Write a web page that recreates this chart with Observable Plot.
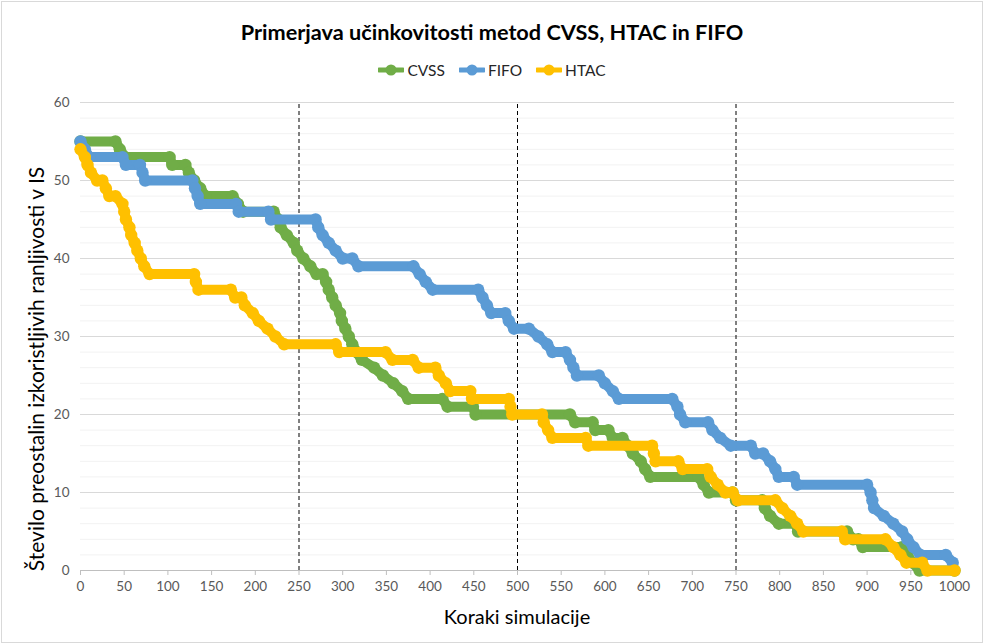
<!DOCTYPE html>
<html>
<head>
<meta charset="utf-8">
<script src="https://cdn.jsdelivr.net/npm/d3@7"></script>
<script src="https://cdn.jsdelivr.net/npm/@observablehq/plot@0.6"></script>
<style>
  html, body { margin: 0; padding: 0; background: #fff; }
  #wrap { position: relative; width: 984px; height: 644px; font-family: Lato, "Open Sans", sans-serif; }
  #frame { position: absolute; left: 1px; top: 1px; width: 980px; height: 640px; border: 1px solid #d9d9d9; }
  #title { position: absolute; left: 0; width: 984px; top: 19px; text-align: center; font-size: 21.7px; font-weight: bold; color: #000; }
  #legend { position: absolute; left: 0; width: 984px; top: 61px; display: flex; justify-content: center; gap: 14px; font-size: 15.5px; color: #262626; }
  .item { display: flex; align-items: center; gap: 3px; }
  #ytitle { position: absolute; left: 35px; top: 369px; transform: translate(-50%, -50%) rotate(-90deg); white-space: nowrap; font-size: 21px; color: #000; }
  #xtitle { position: absolute; left: 517px; top: 604px; transform: translateX(-50%); white-space: nowrap; font-size: 20px; color: #000; }
  #chart { position: absolute; left: 0; top: 0; }
</style>
</head>
<body>
<div id="wrap">
  <div id="frame"></div>
  <div id="chart"></div>
  <div id="title">Primerjava učinkovitosti metod CVSS, HTAC in FIFO</div>
  <div id="legend"></div>
  <div id="ytitle">Število preostalin izkoristljivih ranljivosti v IS</div>
  <div id="xtitle">Koraki simulacije</div>
</div>
<script>
// ---- data: [korak, število] vertices ----
const seriesNames = ["CVSS", "FIFO", "HTAC"];
const seriesColors = ["#70AD47", "#5B9BD5", "#FFC000"];

const cvss = [[0,55],[40,55],[45,54],[51,53],[102,53],[105,52],[120,52],[124,51],[130,50],[137,49],[143,48],[174,48],[180,47],[186,46],[221,46],[226,45],[229,44],[236,43],[244,42],[248,41],[255,40],[263,39],[270,38],[277,38],[281,37],[284,36],[288,35],[292,34],[297,33],[299,32],[303,31],[307,30],[311,29],[316,28],[322,27],[336,26],[346,25],[358,24],[368,23],[375,22],[414,22],[420,21],[449,21],[452,20],[560,20],[566,19],[586,19],[589,18],[604,18],[609,17],[620,17],[626,16],[632,15],[641,14],[646,13],[652,12],[707,12],[713,11],[719,10],[746,10],[750,9],[780,9],[783,8],[789,7],[799,6],[818,6],[821,5],[877,5],[884,4],[890,4],[895,3],[940,3],[946,2],[952,1],[960,0],[1000,0]];

const fifo = [[0,55],[5,54],[10,53],[48,53],[52,52],[68,52],[71,51],[74,50],[128,50],[131,49],[134,48],[137,47],[178,47],[181,46],[215,46],[218,45],[269,45],[272,44],[277,43],[284,42],[292,41],[300,40],[311,40],[318,39],[381,39],[388,38],[395,37],[403,36],[455,36],[460,35],[465,34],[470,33],[486,33],[490,32],[496,31],[513,31],[524,30],[534,29],[540,28],[555,28],[560,27],[564,26],[568,25],[593,25],[600,24],[609,23],[616,22],[677,22],[683,21],[686,20],[692,19],[718,19],[723,18],[732,17],[744,16],[767,16],[772,15],[781,15],[789,14],[795,13],[799,12],[816,12],[820,11],[900,11],[904,10],[906,9],[908,8],[919,7],[930,6],[940,5],[946,4],[953,3],[961,2],[990,2],[998,1]];

const htac = [[0,54],[5,53],[8,52],[12,51],[19,50],[25,50],[29,49],[33,48],[40,48],[48,47],[50,46],[52,45],[56,44],[58,43],[62,42],[65,41],[69,40],[73,39],[79,38],[130,38],[132,37],[135,36],[172,36],[177,35],[184,35],[188,34],[197,33],[204,32],[214,31],[223,30],[233,29],[292,29],[296,28],[349,28],[357,27],[380,27],[387,26],[406,26],[410,25],[418,24],[423,23],[446,23],[448,22],[490,22],[492,21],[494,20],[528,20],[530,19],[535,18],[540,17],[578,17],[581,16],[654,16],[656,15],[658,14],[684,14],[689,13],[717,13],[721,12],[729,11],[738,10],[746,10],[752,9],[795,9],[803,8],[812,7],[820,6],[827,5],[871,5],[875,4],[921,4],[930,3],[938,2],[945,1],[963,1],[969,0],[1000,0]];

const xTicks = [0,50,100,150,200,250,300,350,400,450,500,550,600,650,700,750,800,850,900,950,1000];
const yTicks = [0,10,20,30,40,50,60];
const yMinor = [2,4,6,8,12,14,16,18,22,24,26,28,32,34,36,38,42,44,46,48,52,54,56,58];
const markerSteps = [250, 500, 750];

// ---- build ----
const allSeries = [cvss, fifo, htac];
const seriesMarks = allSeries.flatMap((s, i) => {
  const rows = s.map(([x, y]) => ({x, y}));
  return [
    Plot.line(rows, {x: "x", y: "y", stroke: seriesColors[i], strokeWidth: 10, strokeLinejoin: "round", strokeLinecap: "round"}),
    Plot.dot(rows, {x: "x", y: "y", r: 6.2, fill: seriesColors[i], stroke: "none"})
  ];
});

const chart = Plot.plot({
  width: 984,
  height: 644,
  marginLeft: 80,
  marginRight: 30,
  marginTop: 102,
  marginBottom: 74,
  style: {fontFamily: "Lato, 'Open Sans', sans-serif", fontSize: "13.5px", background: "transparent", overflow: "visible"},
  x: {domain: [0, 1000]},
  y: {domain: [0, 60]},
  marks: [
    Plot.ruleY(yMinor, {stroke: "#f2f2f2", strokeWidth: 1}),
    Plot.ruleY(yTicks.filter(d => d > 0), {stroke: "#d9d9d9", strokeWidth: 1}),
    Plot.ruleX(markerSteps, {y1: 0, y2: 60, stroke: "#000", strokeWidth: 1, strokeDasharray: "4,3"}),
    Plot.ruleY([0], {stroke: "#bfbfbf", strokeWidth: 1}),
    Plot.axisX({ticks: xTicks, tickFormat: d => String(d), tickSize: 5, tickPadding: 6, stroke: "#bfbfbf", fill: "#595959", fontSize: 13.5, label: null}),
    Plot.axisY({ticks: yTicks, tickFormat: d => String(d), tickSize: 0, tickPadding: 11, fill: "#595959", fontSize: 13.5, label: null}),
    ...seriesMarks
  ]
});
document.getElementById("chart").appendChild(chart);

// ---- legend ----
const legend = document.getElementById("legend");
seriesNames.forEach((name, i) => {
  const item = document.createElement("div");
  item.className = "item";
  item.innerHTML = `<svg width="26" height="12"><line x1="1" y1="6" x2="25" y2="6" stroke="${seriesColors[i]}" stroke-width="5" stroke-linecap="round"/><circle cx="13" cy="6" r="5.5" fill="${seriesColors[i]}"/></svg><span>${name}</span>`;
  legend.appendChild(item);
});
</script>
</body>
</html>
